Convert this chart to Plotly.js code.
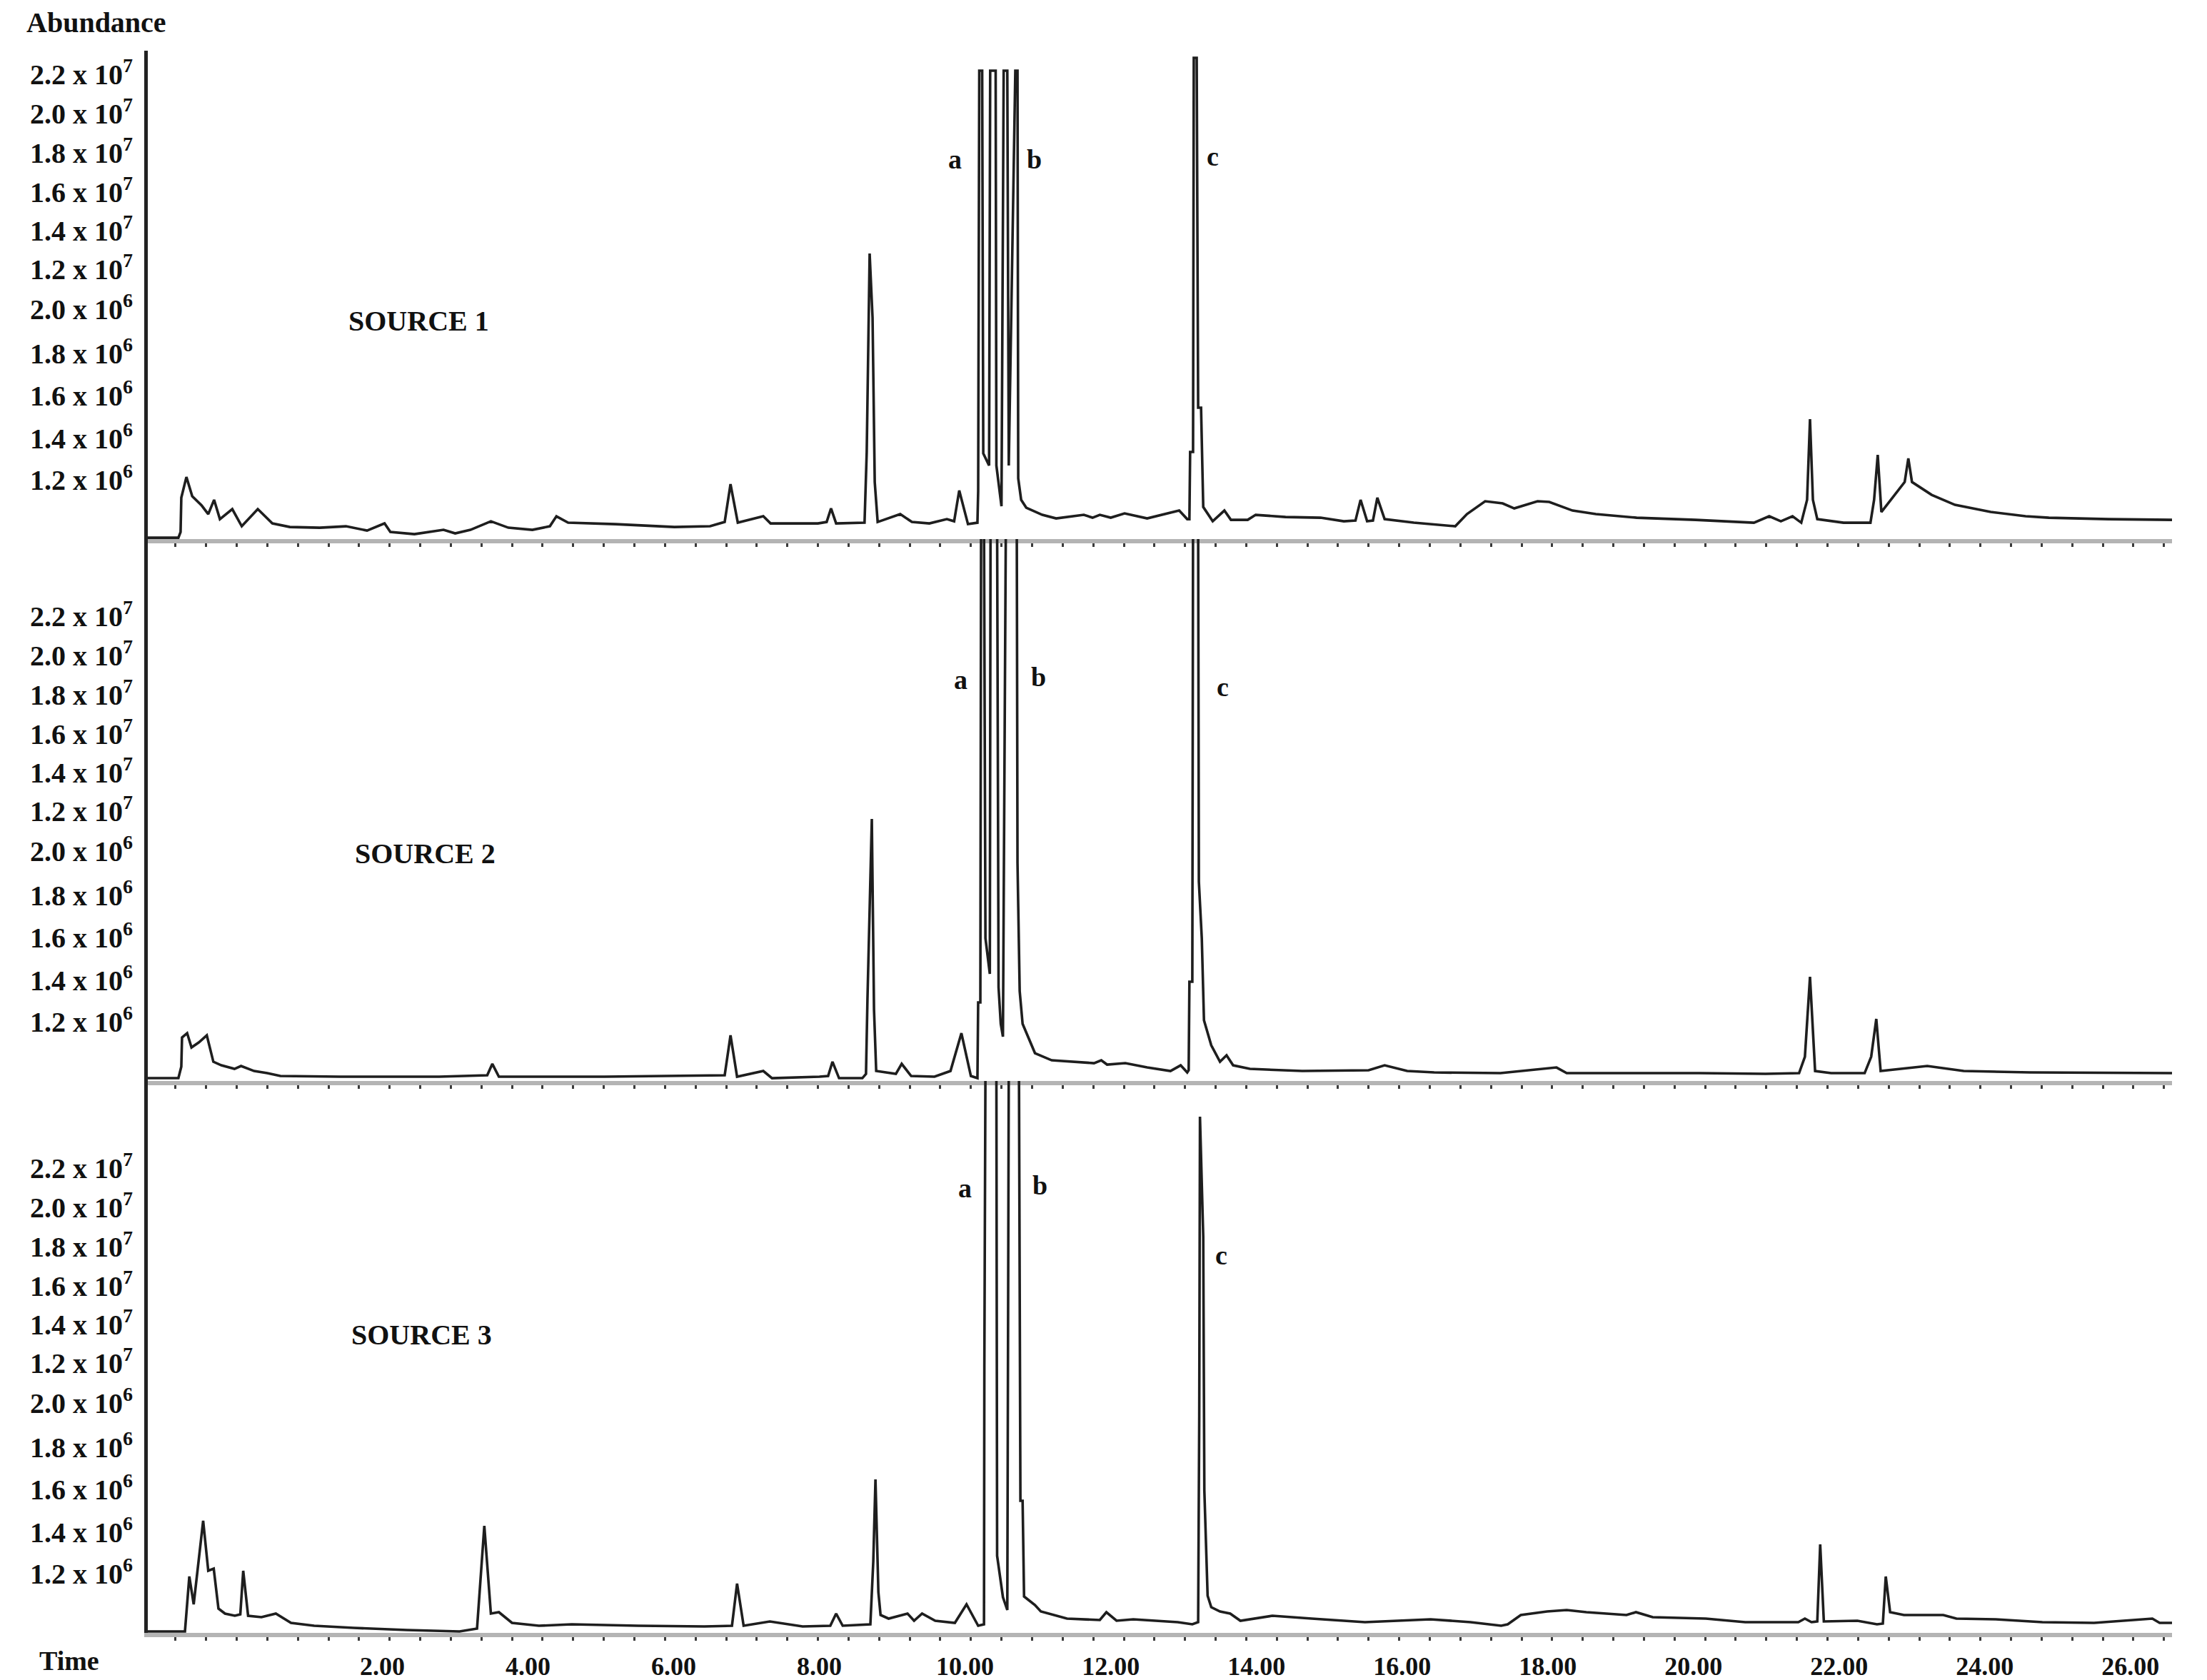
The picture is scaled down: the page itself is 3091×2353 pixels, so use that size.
<!DOCTYPE html>
<html>
<head>
<meta charset="utf-8">
<script src="https://cdn.plot.ly/plotly-3.0.1.min.js"></script>
<style>
  html, body { margin: 0; padding: 0; background: #fff; }
  #chartDiv { width: 3091px; height: 2353px; }
</style>
</head>
<body>
<div id="chartDiv"></div>
<script>
// retention time (min) and detector level for each source
const time1 = [-1.22, -0.80, -0.77, -0.76, -0.69, -0.61, -0.48, -0.39, -0.31, -0.23, -0.06, 0.07, 0.29, 0.49, 0.73, 1.14, 1.50, 1.79, 2.03, 2.11, 2.44, 2.84, 3.00, 3.21, 3.49, 3.73, 4.06, 4.30, 4.39, 4.55, 5.20, 6.01, 6.50, 6.70, 6.78, 6.88, 7.23, 7.33, 7.98, 8.10, 8.16, 8.23, 8.62, 8.65, 8.69, 8.73, 8.76, 8.80, 9.11, 9.27, 9.51, 9.75, 9.85, 9.92, 10.04, 10.17, 10.18, 10.195, 10.235, 10.25, 10.33, 10.345, 10.42, 10.43, 10.50, 10.53, 10.58, 10.60, 10.69, 10.72, 10.73, 10.77, 10.84, 11.06, 11.25, 11.63, 11.75, 11.85, 12.00, 12.19, 12.50, 12.94, 13.05, 13.08, 13.09, 13.13, 13.14, 13.18, 13.20, 13.24, 13.27, 13.40, 13.56, 13.65, 13.88, 13.99, 14.40, 14.88, 15.20, 15.36, 15.43, 15.52, 15.60, 15.66, 15.76, 16.16, 16.73, 16.89, 17.14, 17.38, 17.54, 17.86, 18.02, 18.34, 18.66, 19.22, 20.03, 20.83, 21.04, 21.20, 21.36, 21.48, 21.56, 21.60, 21.64, 21.70, 22.06, 22.43, 22.48, 22.53, 22.58, 22.75, 22.90, 22.95, 23.00, 23.27, 23.59, 24.08, 24.56, 24.88, 25.70, 26.57];
const level1 = [0.2, 0.2, 1.0, 5.8, 8.7, 6.0, 4.7, 3.5, 5.5, 2.8, 4.2, 1.8, 4.2, 2.2, 1.7, 1.6, 1.8, 1.2, 2.2, 1.0, 0.7, 1.3, 0.8, 1.3, 2.5, 1.6, 1.3, 1.8, 3.2, 2.3, 2.1, 1.7, 1.8, 2.4, 7.7, 2.3, 3.2, 2.2, 2.2, 2.4, 4.3, 2.2, 2.3, 12.2, 40.0, 31.0, 8.0, 2.4, 3.5, 2.4, 2.2, 2.8, 2.5, 6.8, 2.1, 2.3, 6.7, 65.6, 65.6, 12.0, 10.3, 65.6, 65.6, 10.3, 4.6, 65.6, 65.6, 10.3, 65.6, 65.6, 8.5, 5.5, 4.4, 3.4, 2.9, 3.4, 3.0, 3.4, 3.0, 3.6, 2.9, 4.0, 2.8, 2.8, 12.2, 12.2, 67.4, 67.4, 18.4, 18.4, 4.5, 2.5, 4.0, 2.7, 2.7, 3.4, 3.1, 3.0, 2.5, 2.6, 5.5, 2.5, 2.6, 5.8, 2.8, 2.3, 1.8, 3.5, 5.3, 5.0, 4.3, 5.3, 5.2, 4.0, 3.5, 3.0, 2.7, 2.3, 3.2, 2.5, 3.2, 2.3, 5.5, 16.8, 5.5, 2.8, 2.3, 2.3, 5.5, 11.8, 3.8, 6.0, 8.0, 11.3, 8.0, 6.2, 4.8, 3.8, 3.2, 3.0, 2.8, 2.7];

const time2 = [-1.22, -0.80, -0.76, -0.75, -0.68, -0.62, -0.52, -0.41, -0.32, -0.21, -0.03, 0.06, 0.24, 0.42, 0.60, 1.42, 2.78, 3.23, 3.44, 3.51, 3.60, 5.05, 6.50, 6.70, 6.78, 6.87, 7.23, 7.35, 8.00, 8.12, 8.18, 8.27, 8.59, 8.64, 8.66, 8.72, 8.75, 8.78, 9.05, 9.13, 9.26, 9.58, 9.80, 9.95, 10.08, 10.17, 10.18, 10.21, 10.22, 10.26, 10.28, 10.34, 10.35, 10.44, 10.46, 10.49, 10.52, 10.56, 10.71, 10.72, 10.75, 10.79, 10.96, 11.19, 11.77, 11.87, 11.95, 12.20, 12.50, 12.82, 12.96, 13.05, 13.07, 13.08, 13.12, 13.13, 13.20, 13.21, 13.25, 13.28, 13.38, 13.50, 13.59, 13.68, 13.91, 14.63, 15.54, 15.76, 16.07, 16.44, 17.35, 18.12, 18.26, 20.08, 20.99, 21.45, 21.53, 21.60, 21.67, 21.89, 22.35, 22.44, 22.51, 22.57, 23.21, 23.71, 24.62, 26.57];
const level2 = [0.4, 0.4, 2.0, 6.1, 6.7, 4.7, 5.4, 6.4, 2.7, 2.2, 1.7, 2.1, 1.4, 1.1, 0.7, 0.6, 0.6, 0.7, 0.8, 2.4, 0.6, 0.6, 0.7, 0.8, 6.4, 0.6, 1.4, 0.4, 0.6, 0.7, 2.7, 0.4, 0.4, 1.0, 11.4, 36.7, 10.0, 1.4, 1.0, 2.4, 0.7, 0.6, 1.4, 6.7, 0.7, 0.4, 11.0, 11.0, 78, 78, 20.0, 15.0, 78, 78, 13.1, 8.0, 6.2, 78, 78, 30.5, 12.6, 8.0, 3.9, 2.9, 2.5, 2.9, 2.3, 2.5, 1.9, 1.4, 2.2, 1.2, 1.5, 13.9, 13.9, 78, 78, 27.9, 20.0, 8.5, 5.0, 2.7, 3.6, 2.2, 1.7, 1.4, 1.5, 2.2, 1.4, 1.2, 1.1, 1.9, 1.1, 1.1, 1.0, 1.1, 3.4, 14.6, 1.4, 1.1, 1.1, 3.4, 8.7, 1.4, 2.1, 1.4, 1.2, 1.1];

const time3 = [-1.22, -0.71, -0.65, -0.59, -0.46, -0.39, -0.315, -0.25, -0.16, -0.025, 0.05, 0.09, 0.157, 0.34, 0.538, 0.746, 1.064, 1.608, 2.336, 3.06, 3.30, 3.40, 3.49, 3.60, 3.78, 4.15, 4.60, 5.51, 6.42, 6.80, 6.87, 6.96, 7.32, 7.77, 8.15, 8.23, 8.32, 8.70, 8.74, 8.77, 8.81, 8.84, 8.95, 9.21, 9.30, 9.41, 9.59, 9.86, 10.02, 10.18, 10.26, 10.265, 10.28, 10.43, 10.44, 10.52, 10.58, 10.60, 10.74, 10.76, 10.79, 10.81, 10.96, 11.04, 11.40, 11.85, 11.94, 12.08, 12.31, 12.92, 13.12, 13.20, 13.215, 13.225, 13.27, 13.285, 13.33, 13.38, 13.50, 13.64, 13.78, 13.95, 14.22, 14.76, 15.49, 16.39, 16.94, 17.36, 17.45, 17.63, 17.80, 17.99, 18.26, 18.53, 19.08, 19.21, 19.44, 20.17, 20.71, 21.44, 21.53, 21.62, 21.70, 21.74, 21.79, 22.25, 22.52, 22.60, 22.64, 22.70, 22.89, 23.43, 23.61, 24.15, 24.79, 25.50, 26.30, 26.40, 26.57];
const level3 = [0.2, 0.2, 7.9, 4.0, 15.7, 8.7, 9.0, 3.4, 2.7, 2.4, 2.6, 8.7, 2.4, 2.2, 2.7, 1.4, 1.0, 0.7, 0.4, 0.2, 0.6, 15.0, 2.7, 2.9, 1.4, 1.0, 1.2, 1.0, 0.9, 1.0, 6.9, 1.0, 1.6, 0.9, 1.0, 2.7, 1.0, 1.2, 10.0, 21.5, 5.7, 2.5, 2.0, 2.7, 1.7, 2.7, 1.7, 1.4, 4.0, 1.0, 1.2, 37.4, 79, 79, 10.8, 5.0, 3.2, 79, 79, 18.5, 18.5, 5.1, 3.9, 3.0, 2.0, 1.8, 2.9, 1.7, 1.9, 1.5, 1.2, 1.5, 30.2, 72.3, 55.5, 20.0, 5.2, 3.6, 3.0, 2.7, 1.7, 2.0, 2.4, 2.0, 1.5, 1.9, 1.5, 1.0, 1.2, 2.5, 2.7, 3.0, 3.2, 2.9, 2.5, 2.9, 2.2, 2.0, 1.5, 1.5, 2.0, 1.5, 1.6, 12.4, 1.6, 1.7, 1.2, 1.3, 7.9, 2.9, 2.5, 2.5, 2.0, 1.9, 1.5, 1.4, 2.0, 1.4, 1.4];

const xTickTimes = [2, 4, 6, 8, 10, 12, 14, 16, 18, 20, 22, 24, 26];
const xTickLabels = ["2.00", "4.00", "6.00", "8.00", "10.00", "12.00", "14.00", "16.00", "18.00", "20.00", "22.00", "24.00", "26.00"];
const yTickLevels = [8.3, 14.1, 20.1, 26.0, 32.2, 37.8, 43.2, 48.6, 54.1, 59.6, 65.1];
const yTickLabels = ["1.2 x 10<sup>6</sup>", "1.4 x 10<sup>6</sup>", "1.6 x 10<sup>6</sup>", "1.8 x 10<sup>6</sup>", "2.0 x 10<sup>6</sup>",
                     "1.2 x 10<sup>7</sup>", "1.4 x 10<sup>7</sup>", "1.6 x 10<sup>7</sup>", "1.8 x 10<sup>7</sup>", "2.0 x 10<sup>7</sup>", "2.2 x 10<sup>7</sup>"];
const sourceNames = ["SOURCE 1", "SOURCE 2", "SOURCE 3"];
const peakNames = ["a", "b", "c"];

const serif = "Liberation Serif, Times New Roman, serif";
const ink = "#1e1e1e";

function trace(x, y, n) {
  return {
    x: x, y: y, type: "scatter", mode: "lines",
    xaxis: n === 1 ? "x" : "x" + n,
    yaxis: n === 1 ? "y" : "y" + n,
    line: { color: ink, width: 3.6 },
    hoverinfo: "skip",
    showlegend: false
  };
}

function xAxis(n, labels) {
  return {
    anchor: n === 1 ? "y" : "y" + n,
    matches: n === 1 ? undefined : "x",
    range: [-1.22, 26.57],
    showgrid: false, zeroline: false,
    showline: true, linecolor: "#b4b4b4", linewidth: 6,
    tickmode: "array", tickvals: xTickTimes, ticktext: xTickLabels.map(t => "<b>" + t + "</b>"),
    showticklabels: labels, ticks: "",
    ticklabelstandoff: 10,
    tickfont: { family: serif, size: 36, color: "#111" },
    minor: { ticks: "outside", dtick: 0.42, tick0: 0, ticklen: 5, tickwidth: 3, tickcolor: "#3a3a3a", showgrid: false }
  };
}

function yAxis(domain, top) {
  return {
    domain: domain,
    range: [0, top],
    showgrid: false, zeroline: false,
    showline: true, linecolor: "#222", linewidth: 5,
    tickmode: "array", tickvals: yTickLevels, ticktext: yTickLabels.map(t => "<b>" + t + "</b>"),
    ticks: "", ticklabelstandoff: 8,
    tickfont: { family: serif, size: 40, color: "#111" }
  };
}

function label(text, x, y, n, size) {
  return {
    text: "<b>" + text + "</b>", x: x, y: y,
    xref: n === 1 ? "x" : "x" + n, yref: n === 1 ? "y" : "y" + n,
    xanchor: "center", yanchor: "middle",
    showarrow: false, font: { family: serif, size: size, color: "#111" }
  };
}

const annotations = [
  { text: "<b>Abundance</b>", xref: "paper", yref: "paper", x: -0.0254, y: 1.0176,
    xanchor: "center", yanchor: "middle", showarrow: false,
    font: { family: serif, size: 40, color: "#111" } },
  { text: "<b>Time</b>", xref: "paper", yref: "paper", x: -0.0388, y: -0.0176,
    xanchor: "center", yanchor: "middle", showarrow: false,
    font: { family: serif, size: 38, color: "#111" } },
  label(sourceNames[0], 2.50, 30.6, 1, 40),
  label(sourceNames[1], 2.59, 31.9, 2, 40),
  label(sourceNames[2], 2.54, 41.8, 3, 40),
  label(peakNames[0], 9.86, 53.2, 1, 38),
  label(peakNames[1], 10.95, 53.2, 1, 38),
  label(peakNames[2], 13.40, 53.6, 1, 38),
  label(peakNames[0], 9.94, 56.2, 2, 38),
  label(peakNames[1], 11.01, 56.6, 2, 38),
  label(peakNames[2], 13.54, 55.2, 2, 38),
  label(peakNames[0], 10.00, 62.3, 3, 38),
  label(peakNames[1], 11.03, 62.7, 3, 38),
  label(peakNames[2], 13.52, 52.9, 3, 38)
];

const layout = {
  width: 3091, height: 2353,
  margin: { l: 207, r: 49, t: 71, b: 66 },
  paper_bgcolor: "#fff", plot_bgcolor: "#fff",
  showlegend: false,
  xaxis: xAxis(1, false),
  xaxis2: xAxis(2, false),
  xaxis3: xAxis(3, true),
  yaxis: yAxis([0.6913, 1], 68.4),
  yaxis2: yAxis([0.3488, 0.6913], 75.9),
  yaxis3: yAxis([0, 0.3488], 77.3),
  annotations: annotations
};

Plotly.newPlot("chartDiv", [trace(time1, level1, 1), trace(time2, level2, 2), trace(time3, level3, 3)], layout,
  { staticPlot: true, displayModeBar: false });
</script>
</body>
</html>
